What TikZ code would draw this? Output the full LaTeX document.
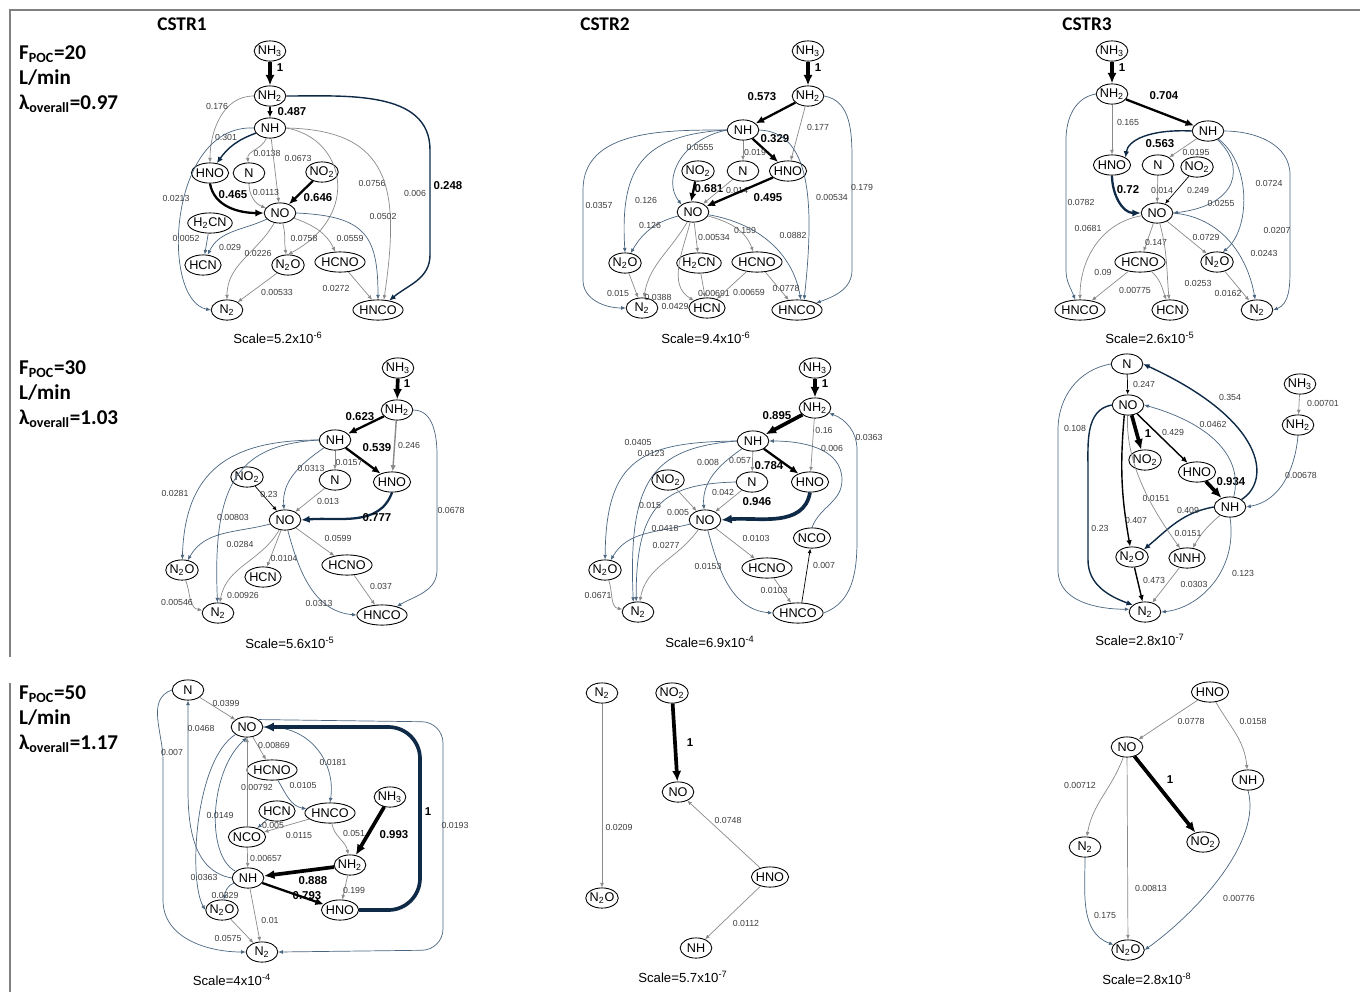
\documentclass[tikz,border=0pt]{standalone}
\usepackage{fontspec}
\setmainfont{Liberation Sans}
\newfontfamily\headfont{Carlito}
\usepackage{xcolor}
\usetikzlibrary{arrows.meta,shapes.geometric}
\definecolor{EdgeGrey}{HTML}{8A8A8A}
\definecolor{EdgeBlue}{HTML}{4A6580}
\definecolor{DeepNavy}{HTML}{0E2A47}
\definecolor{ValText}{HTML}{3C3C3C}
\definecolor{FrameGrey}{HTML}{808080}

\tikzset{
  sp/.style={draw,ellipse,line width=0.5pt,inner xsep=-0.5pt,inner ysep=0.5pt,
    minimum width=18pt,minimum height=11.5pt,font=\fontsize{7.2}{8.2}\selectfont},
  flow/.style={line width=0.4pt,-{Latex[length=2.6pt,width=2.2pt]}},
  gr/.style={flow,draw=EdgeGrey},
  bl/.style={flow,draw=EdgeBlue},
  bk/.style={flow,draw=black},
  nv/.style={flow,draw=DeepNavy},
  medium/.style={line width=0.8pt,-{Latex[length=3.6pt,width=3.2pt]}},
  strong/.style={line width=1.3pt,-{Latex[length=4.8pt,width=4.2pt]}},
  heavy/.style={line width=2.1pt,-{Latex[length=6pt,width=5.2pt]}},
  val/.style={font=\fontsize{5}{6}\selectfont,text=ValText,inner sep=0pt},
  bval/.style={font=\bfseries\fontsize{6.5}{7.5}\selectfont,inner sep=0pt},
  scl/.style={font=\fontsize{7.5}{9}\selectfont},
  colhead/.style={font=\headfont\bfseries\fontsize{11}{13}\selectfont},
  rowhead/.style={anchor=west,align=left,font=\headfont\bfseries\fontsize{12}{14.2}\selectfont},
}

\begin{document}
\begin{tikzpicture}[x=0.02cm,y=-0.02cm]
  \useasboundingbox (0,0) rectangle (1360,992);
  \draw[FrameGrey,line width=0.6pt] (10,657) -- (10,10) -- (1360,10);
  \draw[FrameGrey,line width=0.6pt] (10,683) -- (10,992);

  \node[colhead] (h1) at (182,24) {CSTR1};
  \node[colhead] (h2) at (605,24) {CSTR2};
  \node[colhead] (h3) at (1087,24) {CSTR3};
  \node[rowhead] (r1) at (13,79) {F\textsubscript{POC}=20\\L/min\\λ\textsubscript{overall}=0.97};
  \node[rowhead] (r2) at (13,394) {F\textsubscript{POC}=30\\L/min\\λ\textsubscript{overall}=1.03};
  \node[rowhead] (r3) at (13,719) {F\textsubscript{POC}=50\\L/min\\λ\textsubscript{overall}=1.17};

  % ---------- 20 L/min, CSTR1
  \node[sp] (a-NH3) at (270,51) {NH\textsubscript{3}};
  \node[sp] (a-NH2) at (270,96) {NH\textsubscript{2}};
  \node[sp] (a-NH) at (270,128) {NH};
  \node[sp] (a-HNO) at (210,173) {HNO};
  \node[sp] (a-N) at (249,173) {N};
  \node[sp] (a-NO2) at (322,172) {NO\textsubscript{2}};
  \node[sp] (a-NO) at (280,213) {NO};
  \node[sp] (a-H2CN) at (210,223) {H\textsubscript{2}CN};
  \node[sp] (a-HCN) at (203,265) {HCN};
  \node[sp] (a-N2O) at (288,265) {N\textsubscript{2}O};
  \node[sp] (a-HCNO) at (340,262) {HCNO};
  \node[sp] (a-N2) at (227,310) {N\textsubscript{2}};
  \node[sp] (a-HNCO) at (378,310) {HNCO};
  \node[scl] (a-scale) at (278,338) {Scale=5.2x10\textsuperscript{-6}};
  \draw[bk,heavy] (a-NH3) -- (a-NH2); \node[bval] (a-v1) at (280,68) {1};
  \draw[bk,medium] (a-NH2) -- (a-NH); \node[bval] (a-v2) at (292,112) {0.487};
  \draw[gr] (a-NH2.west) to[out=180,in=90] (a-HNO.north); \node[val] (a-v3) at (217,106) {0.176};
  \draw[nv,medium] (a-NH) to[out=200,in=55] (a-HNO); \node[val] (a-v4) at (226,137) {0.301};
  \draw[bl] (a-NH.west) .. controls (168,124) and (160,300) .. (a-N2.west); \node[val] (a-v5) at (176,198) {0.0213};
  \draw[gr] (a-NH) to[out=250,in=95] (a-N); \node[val] (a-v6) at (267,153) {0.0138};
  \draw[gr] (a-NH) -- (a-NO); \node[val] (a-v7) at (298,158) {0.0673};
  \draw[gr] (a-NH.east) .. controls (345,138) and (362,215) .. (a-N2O.north); \node[val] (a-v8) at (372,183) {0.0756};
  \draw[gr] (a-NH.east) .. controls (392,130) and (400,190) .. (a-HNCO.60); \node[val] (a-v9) at (415,193) {0.006};
  \draw[nv,medium] (a-NH2.east) to[out=0,in=90] (430,150) -- (430,255) to[out=-90,in=40] (a-HNCO.40); \node[bval] (a-v10) at (448,186) {0.248};
  \draw[bk,strong] (a-HNO.south) to[out=-80,in=180] (a-NO.west); \node[bval] (a-v11) at (233,195) {0.465};
  \draw[gr] (a-N) to[out=-90,in=160] (a-NO); \node[val] (a-v12) at (266,192) {0.0113};
  \draw[bk,strong] (a-NO2) -- (a-NO); \node[bval] (a-v13) at (318,198) {0.646};
  \draw[bl] (a-NO.east) .. controls (365,216) and (378,235) .. (a-HNCO.north); \node[val] (a-v14) at (383,216) {0.0502};
  \draw[bl] (a-H2CN) -- (a-HCN); \node[val] (a-v15) at (186,238) {0.0052};
  \draw[bl] (a-NO) to[out=205,in=65] (a-HCN); \node[val] (a-v16) at (230,247) {0.029};
  \draw[gr] (a-NO) to[out=240,in=90] (a-N2); \node[val] (a-v17) at (258,253) {0.0226};
  \draw[gr] (a-NO) to[out=-75,in=100] (a-N2O); \node[val] (a-v18) at (304,238) {0.0758};
  \draw[gr] (a-NO) to[out=-20,in=115] (a-HCNO); \node[val] (a-v19) at (350,238) {0.0559};
  \draw[gr] (a-N2O) -- (a-N2); \node[val] (a-v20) at (277,292) {0.00533};
  \draw[gr] (a-HCNO) -- (a-HNCO.120); \node[val] (a-v21) at (336,288) {0.0272};

  % ---------- 20 L/min, CSTR2
  \node[sp] (b-NH3) at (808,51) {NH\textsubscript{3}};
  \node[sp] (b-NH2) at (808,96) {NH\textsubscript{2}};
  \node[sp] (b-NH) at (743,130) {NH};
  \node[sp] (b-NO2) at (698,171) {NO\textsubscript{2}};
  \node[sp] (b-N) at (743,171) {N};
  \node[sp] (b-HNO) at (788,171) {HNO};
  \node[sp] (b-NO) at (693,212) {NO};
  \node[sp] (b-N2O) at (625,263) {N\textsubscript{2}O};
  \node[sp] (b-H2CN) at (699,263) {H\textsubscript{2}CN};
  \node[sp] (b-HCNO) at (757,262) {HCNO};
  \node[sp] (b-N2) at (642,308) {N\textsubscript{2}};
  \node[sp] (b-HCN) at (707,308) {HCN};
  \node[sp] (b-HNCO) at (797,310) {HNCO};
  \node[scl] (b-scale) at (706,338) {Scale=9.4x10\textsuperscript{-6}};
  \draw[bk,heavy] (b-NH3) -- (b-NH2); \node[bval] (b-v1) at (818,68) {1};
  \draw[bk,strong] (b-NH2) -- (b-NH); \node[bval] (b-v2) at (762,97) {0.573};
  \draw[gr] (b-NH2) -- (b-HNO); \node[val] (b-v3) at (818,127) {0.177};
  \draw[bl] (b-NH2.east) to[out=-10,in=90] (852,160) -- (852,270) to[out=-90,in=20] (b-HNCO.20); \node[val] (b-v4) at (862,187) {0.179};
  \draw[bk,strong] (b-NH) -- (b-HNO); \node[bval] (b-v5) at (775,139) {0.329};
  \draw[gr] (b-NH) -- (b-N); \node[val] (b-v6) at (755,152) {0.019};
  \draw[bl] (b-NH.west) .. controls (680,140) and (662,180) .. (b-NO.north west); \node[val] (b-v7) at (700,147) {0.0555};
  \draw[bl] (b-NH.west) .. controls (640,135) and (620,170) .. (b-N2O.north); \node[val] (b-v8) at (646,200) {0.126};
  \draw[bl] (b-NH.west) to[out=180,in=90] (583,190) -- (583,280) to[out=-90,in=180] (b-N2.west); \node[val] (b-v9) at (599,205) {0.0357};
  \draw[bl] (b-NH.east) .. controls (810,132) and (815,200) .. (b-HNCO.55); \node[val] (b-v10) at (832,197) {0.00534};
  \draw[bk,strong] (b-NO2.255) -- (b-NO.100); \node[bval] (b-v11) at (709,189) {0.681};
  \draw[gr] (b-N) -- (b-NO); \node[val] (b-v12) at (737,190) {0.014};
  \draw[bk,strong] (b-HNO) -- (b-NO); \node[bval] (b-v13) at (768,198) {0.495};
  \draw[bl] (b-NO) to[out=195,in=60] (b-N2O); \node[val] (b-v14) at (650,225) {0.126};
  \draw[gr] (b-NO) to[out=240,in=80] (b-N2); \node[val] (b-v15) at (658,297) {0.0388};
  \draw[gr] (b-NO) to[out=255,in=150] (b-HCN); \node[val] (b-v16) at (675,306) {0.0429};
  \draw[gr] (b-NO) -- (b-H2CN); \node[val] (b-v17) at (714,237) {0.00534};
  \draw[gr] (b-NO) to[out=-15,in=110] (b-HCNO); \node[val] (b-v18) at (745,230) {0.159};
  \draw[bl] (b-NO) to[out=-10,in=100] (b-HNCO.70); \node[val] (b-v19) at (793,235) {0.0882};
  \draw[gr] (b-N2O) -- (b-N2); \node[val] (b-v20) at (618,293) {0.015};
  \draw[gr] (b-H2CN) -- (b-HCN); \node[val] (b-v21) at (714,293) {0.00691};
  \draw[gr] (b-HCNO) -- (b-HCN); \node[val] (b-v22) at (749,292) {0.00659};
  \draw[gr] (b-HCNO) -- (b-HNCO); \node[val] (b-v23) at (786,288) {0.0778};

  % ---------- 20 L/min, CSTR3
  \node[sp] (c-NH3) at (1112,51) {NH\textsubscript{3}};
  \node[sp] (c-NH2) at (1112,94) {NH\textsubscript{2}};
  \node[sp] (c-NH) at (1208,131) {NH};
  \node[sp] (c-HNO) at (1112,165) {HNO};
  \node[sp] (c-N) at (1158,165) {N};
  \node[sp] (c-NO2) at (1197,167) {NO\textsubscript{2}};
  \node[sp] (c-NO) at (1157,213) {NO};
  \node[sp] (c-HCNO) at (1140,262) {HCNO};
  \node[sp] (c-N2O) at (1217,262) {N\textsubscript{2}O};
  \node[sp] (c-HNCO) at (1080,310) {HNCO};
  \node[sp] (c-HCN) at (1170,310) {HCN};
  \node[sp] (c-N2) at (1257,310) {N\textsubscript{2}};
  \node[scl] (c-scale) at (1150,338) {Scale=2.6x10\textsuperscript{-5}};
  \draw[bk,heavy] (c-NH3) -- (c-NH2); \node[bval] (c-v1) at (1122,68) {1};
  \draw[bk,strong] (c-NH2) -- (c-NH); \node[bval] (c-v2) at (1164,96) {0.704};
  \draw[gr] (c-NH2) -- (c-HNO); \node[val] (c-v3) at (1128,122) {0.165};
  \draw[bl] (c-NH2.west) to[out=190,in=90] (1066,140) -- (1066,270) to[out=-90,in=110] (c-HNCO.115); \node[val] (c-v4) at (1081,202) {0.0782};
  \draw[nv,medium] (c-NH.west) .. controls (1150,129) and (1128,140) .. (c-HNO.north east); \node[bval] (c-v5) at (1160,144) {0.563};
  \draw[gr] (c-NH) -- (c-N); \node[val] (c-v6) at (1196,152) {0.0195};
  \draw[bl] (c-NH) .. controls (1245,165) and (1240,205) .. (c-NO.east); \node[val] (c-v7) at (1221,203) {0.0255};
  \draw[bl] (c-NH) .. controls (1252,165) and (1250,230) .. (c-N2O.60); \node[val] (c-v8) at (1269,183) {0.0724};
  \draw[bl] (c-NH.east) to[out=0,in=90] (1290,175) -- (1290,270) to[out=-90,in=20] (c-N2.east); \node[val] (c-v9) at (1277,230) {0.0207};
  \draw[nv,strong] (c-HNO.south) to[out=-90,in=180] (c-NO.west); \node[bval] (c-v10) at (1128,190) {0.72};
  \draw[gr] (c-N) -- (c-NO); \node[val] (c-v11) at (1162,190) {0.014};
  \draw[bk] (c-NO2) -- (c-NO); \node[val] (c-v12) at (1198,190) {0.249};
  \draw[gr] (c-NO) to[out=190,in=90] (c-HNCO); \node[val] (c-v13) at (1088,228) {0.0681};
  \draw[gr] (c-NO) -- (c-HCNO); \node[val] (c-v14) at (1156,242) {0.147};
  \draw[gr] (c-NO) to[out=-75,in=95] (c-HCN); \node[val] (c-v15) at (1198,283) {0.0253};
  \draw[gr] (c-NO) -- (c-N2O); \node[val] (c-v16) at (1206,237) {0.0729};
  \draw[bl] (c-NO.east) to[out=-5,in=100] (c-N2); \node[val] (c-v17) at (1264,253) {0.0243};
  \draw[gr] (c-HCNO) -- (c-HNCO); \node[val] (c-v18) at (1103,272) {0.09};
  \draw[gr] (c-HCNO) to[out=-40,in=110] (c-HCN); \node[val] (c-v19) at (1135,290) {0.00775};
  \draw[gr] (c-N2O) -- (c-N2); \node[val] (c-v20) at (1228,293) {0.0162};

  % ---------- 30 L/min, CSTR1
  \node[sp] (d-NH3) at (398,368) {NH\textsubscript{3}};
  \node[sp] (d-NH2) at (397,410) {NH\textsubscript{2}};
  \node[sp] (d-NH) at (335,440) {NH};
  \node[sp] (d-NO2) at (247,477) {NO\textsubscript{2}};
  \node[sp] (d-N) at (335,480) {N};
  \node[sp] (d-HNO) at (392,482) {HNO};
  \node[sp] (d-NO) at (285,520) {NO};
  \node[sp] (d-N2O) at (182,570) {N\textsubscript{2}O};
  \node[sp] (d-HCN) at (263,577) {HCN};
  \node[sp] (d-HCNO) at (347,565) {HCNO};
  \node[sp] (d-N2) at (218,613) {N\textsubscript{2}};
  \node[sp] (d-HNCO) at (382,615) {HNCO};
  \node[scl] (d-scale) at (290,643) {Scale=5.6x10\textsuperscript{-5}};
  \draw[bk,heavy] (d-NH3) -- (d-NH2); \node[bval] (d-v1) at (407,384) {1};
  \draw[bk,strong] (d-NH2) -- (d-NH); \node[bval] (d-v2) at (360,417) {0.623};
  \draw[gr,medium] (d-NH2) -- (d-HNO); \node[val] (d-v3) at (409,445) {0.246};
  \draw[bl] (d-NH2.east) to[out=0,in=90] (437,455) -- (437,570) to[out=-90,in=30] (d-HNCO.30); \node[val] (d-v4) at (451,510) {0.0678};
  \draw[bk,strong] (d-NH) -- (d-HNO); \node[bval] (d-v5) at (377,448) {0.539};
  \draw[gr] (d-NH) -- (d-N); \node[val] (d-v6) at (349,462) {0.0157};
  \draw[bl] (d-NH) to[out=215,in=95] (d-NO); \node[val] (d-v7) at (311,468) {0.0313};
  \draw[bl] (d-NH.west) .. controls (230,440) and (185,470) .. (d-N2O); \node[val] (d-v8) at (175,493) {0.0281};
  \draw[bl] (d-NH.west) .. controls (240,445) and (212,480) .. (d-N2); \node[val] (d-v9) at (233,517) {0.00803};
  \draw[bk] (d-NO2) -- (d-NO); \node[val] (d-v10) at (269,494) {0.23};
  \draw[gr] (d-N) -- (d-NO); \node[val] (d-v11) at (328,501) {0.013};
  \draw[nv,strong] (d-HNO.south) to[out=-110,in=5] (d-NO.east); \node[bval] (d-v12) at (377,518) {0.777};
  \draw[bl] (d-NO) to[out=195,in=60] (d-N2O); \node[val] (d-v13) at (240,544) {0.0284};
  \draw[gr] (d-NO) -- (d-HCN); \node[val] (d-v14) at (284,558) {0.0104};
  \draw[gr] (d-NO) to[out=240,in=80] (d-N2); \node[val] (d-v15) at (243,595) {0.00926};
  \draw[gr] (d-NO) -- (d-HCNO); \node[val] (d-v16) at (338,538) {0.0599};
  \draw[bl] (d-NO) to[out=-75,in=175] (d-HNCO.west); \node[val] (d-v17) at (319,603) {0.0313};
  \draw[gr] (d-N2O) to[out=-70,in=170] (d-N2); \node[val] (d-v18) at (177,602) {0.00546};
  \draw[gr] (d-HCNO) -- (d-HNCO); \node[val] (d-v19) at (381,586) {0.037};

  % ---------- 30 L/min, CSTR2
  \node[sp] (e-NH3) at (815,368) {NH\textsubscript{3}};
  \node[sp] (e-NH2) at (815,408) {NH\textsubscript{2}};
  \node[sp] (e-NH) at (753,441) {NH};
  \node[sp] (e-NO2) at (668,480) {NO\textsubscript{2}};
  \node[sp] (e-N) at (752,482) {N};
  \node[sp] (e-HNO) at (810,482) {HNO};
  \node[sp] (e-NO) at (705,520) {NO};
  \node[sp] (e-NCO) at (812,538) {NCO};
  \node[sp] (e-N2O) at (605,570) {N\textsubscript{2}O};
  \node[sp] (e-HCNO) at (767,568) {HCNO};
  \node[sp] (e-N2) at (638,612) {N\textsubscript{2}};
  \node[sp] (e-HNCO) at (798,613) {HNCO};
  \node[scl] (e-scale) at (710,642) {Scale=6.9x10\textsuperscript{-4}};
  \draw[bk,heavy] (e-NH3) -- (e-NH2); \node[bval] (e-v1) at (825,384) {1};
  \draw[bk,heavy] (e-NH2) -- (e-NH); \node[bval] (e-v2) at (777,416) {0.895};
  \draw[gr] (e-NH2) -- (e-HNO); \node[val] (e-v3) at (824,430) {0.16};
  \draw[bk,strong] (e-NH) -- (e-HNO); \node[bval] (e-v4) at (769,466) {0.784};
  \draw[gr] (e-NH) -- (e-N); \node[val] (e-v5) at (740,460) {0.057};
  \draw[bl] (e-NH) to[out=215,in=95] (e-NO); \node[val] (e-v6) at (708,462) {0.008};
  \draw[bl] (e-NH.west) .. controls (640,442) and (606,460) .. (e-N2O); \node[val] (e-v7) at (638,442) {0.0405};
  \draw[bl] (e-NH.west) .. controls (652,448) and (628,480) .. (e-N2.115); \node[val] (e-v8) at (651,453) {0.0123};
  \draw[bl] (e-N.west) .. controls (662,484) and (636,505) .. (e-N2.100); \node[val] (e-v9) at (650,505) {0.015};
  \draw[gr] (e-NO2) -- (e-NO); \node[val] (e-v10) at (678,512) {0.005};
  \draw[gr] (e-N) -- (e-NO); \node[val] (e-v11) at (723,492) {0.042};
  \draw[nv,heavy] (e-HNO.south) to[out=-100,in=5] (e-NO.east); \node[bval] (e-v12) at (757,502) {0.946};
  \draw[bl] (e-NO) to[out=195,in=60] (e-N2O); \node[val] (e-v13) at (665,528) {0.0418};
  \draw[gr] (e-NO) to[out=235,in=80] (e-N2.80); \node[val] (e-v14) at (666,545) {0.0277};
  \draw[gr] (e-NO) -- (e-HCNO); \node[val] (e-v15) at (756,538) {0.0103};
  \draw[bl] (e-NO) to[out=-75,in=175] (e-HNCO.west); \node[val] (e-v16) at (708,566) {0.0153};
  \draw[gr] (e-HCNO) -- (e-HNCO); \node[val] (e-v17) at (774,590) {0.0103};
  \draw[bk] (e-HNCO.70) -- (e-NCO); \node[val] (e-v18) at (824,565) {0.007};
  \draw[bl] (e-NCO.north) to[out=70,in=-90] (842,480) to[out=90,in=0] (e-NH.east); \node[val] (e-v19) at (832,448) {0.006};
  \draw[bl] (e-HNCO.east) to[out=20,in=-90] (857,540) -- (857,450) to[out=90,in=-20] (e-NH2.-20); \node[val] (e-v20) at (869,437) {0.0363};
  \draw[gr] (e-N2O) to[out=-70,in=170] (e-N2); \node[val] (e-v21) at (598,595) {0.0671};

  % ---------- 30 L/min, CSTR3
  \node[sp] (f-N) at (1127,364) {N};
  \node[sp] (f-NO) at (1128,405) {NO};
  \node[sp] (f-NH3) at (1300,384) {NH\textsubscript{3}};
  \node[sp] (f-NH2) at (1298,425) {NH\textsubscript{2}};
  \node[sp] (f-NO2) at (1145,460) {NO\textsubscript{2}};
  \node[sp] (f-HNO) at (1197,472) {HNO};
  \node[sp] (f-NH) at (1230,507) {NH};
  \node[sp] (f-N2O) at (1132,557) {N\textsubscript{2}O};
  \node[sp] (f-NNH) at (1187,558) {NNH};
  \node[sp] (f-N2) at (1145,612) {N\textsubscript{2}};
  \node[scl] (f-scale) at (1140,640) {Scale=2.8x10\textsuperscript{-7}};
  \draw[bk] (f-N) -- (f-NO); \node[val] (f-v1) at (1144,384) {0.247};
  \draw[bl] (f-N.west) to[out=190,in=90] (1058,430) -- (1058,570) to[out=-90,in=180] (f-N2.170); \node[val] (f-v2) at (1075,428) {0.108};
  \draw[nv,medium] (f-NH.north east) .. controls (1272,480) and (1265,420) .. (f-N.east); \node[val] (f-v3) at (1230,397) {0.354};
  \draw[bk,heavy] (f-NO.290) -- (f-NO2.110); \node[bval] (f-v4) at (1148,434) {1};
  \draw[bk,medium] (f-NO) -- (f-HNO); \node[val] (f-v5) at (1173,432) {0.429};
  \draw[bk,heavy] (f-HNO) -- (f-NH); \node[bval] (f-v6) at (1231,482) {0.934};
  \draw[bl] (f-NH.70) .. controls (1243,460) and (1215,425) .. (f-NO.east); \node[val] (f-v7) at (1213,424) {0.0462};
  \draw[nv,medium] (f-NH.west) to[out=190,in=40] (f-N2O.north east); \node[val] (f-v8) at (1188,510) {0.409};
  \draw[gr] (f-NH) to[out=220,in=60] (f-NNH); \node[val] (f-v9) at (1188,533) {0.0151};
  \draw[bl] (f-NH.south) .. controls (1238,570) and (1200,608) .. (f-N2.east); \node[val] (f-v10) at (1243,573) {0.123};
  \draw[bk,medium] (f-NO.250) to[out=-95,in=100] (f-N2O.100); \node[val] (f-v11) at (1136,520) {0.407};
  \draw[gr] (f-NO) .. controls (1125,470) and (1160,520) .. (f-NNH); \node[val] (f-v12) at (1156,498) {0.0151};
  \draw[nv,medium] (f-NO.west) to[out=190,in=90] (1088,470) -- (1088,560) to[out=-90,in=160] (f-N2.150); \node[val] (f-v13) at (1100,528) {0.23};
  \draw[bk,medium] (f-N2O) -- (f-N2); \node[val] (f-v14) at (1154,580) {0.473};
  \draw[gr] (f-NNH) -- (f-N2); \node[val] (f-v15) at (1194,584) {0.0303};
  \draw[gr] (f-NH3) -- (f-NH2); \node[val] (f-v16) at (1323,403) {0.00701};
  \draw[bl] (f-NH2.south) to[out=-95,in=10] (f-NH.east); \node[val] (f-v17) at (1301,475) {0.00678};

  % ---------- 50 L/min, CSTR1
  \node[sp] (g-N) at (188,690) {N};
  \node[sp] (g-NO) at (247,727) {NO};
  \node[sp] (g-HCNO) at (272,770) {HCNO};
  \node[sp] (g-HCN) at (277,811) {HCN};
  \node[sp] (g-NH3) at (390,797) {NH\textsubscript{3}};
  \node[sp] (g-HNCO) at (330,813) {HNCO};
  \node[sp] (g-NCO) at (247,837) {NCO};
  \node[sp] (g-NH2) at (350,865) {NH\textsubscript{2}};
  \node[sp] (g-NH) at (248,878) {NH};
  \node[sp] (g-N2O) at (222,910) {N\textsubscript{2}O};
  \node[sp] (g-HNO) at (340,910) {HNO};
  \node[sp] (g-N2) at (262,952) {N\textsubscript{2}};
  \node[scl] (g-scale) at (232,980) {Scale=4x10\textsuperscript{-4}};
  \draw[gr] (g-N) -- (g-NO); \node[val] (g-v1) at (226,703) {0.0399};
  \draw[bl] (g-NH.west) to[out=170,in=-90] (188,790) -- (g-N.south); \node[val] (g-v2) at (201,728) {0.0468};
  \draw[bl] (g-N.west) to[out=200,in=90] (163,760) -- (163,900) to[out=-90,in=180] (g-N2.west); \node[val] (g-v3) at (172,752) {0.007};
  \draw[gr] (g-NO) -- (g-HCNO); \node[val] (g-v4) at (274,745) {0.00869};
  \draw[bl] (g-NO.east) .. controls (312,724) and (336,765) .. (g-HNCO.north); \node[val] (g-v5) at (333,762) {0.0181};
  \draw[bl] (g-NO.south west) .. controls (195,760) and (188,880) .. (g-N2O.west); \node[val] (g-v6) at (204,877) {0.0363};
  \draw[bl] (g-HCNO) to[out=-60,in=170] (g-HNCO); \node[val] (g-v7) at (303,785) {0.0105};
  \draw[gr] (g-NCO) -- (g-NO); \node[val] (g-v8) at (257,787) {0.00792};
  \draw[bl] (g-NH) .. controls (205,855) and (210,770) .. (g-NO.south); \node[val] (g-v9) at (220,815) {0.0149};
  \draw[bl] (g-HCN) -- (g-NCO); \node[val] (g-v10) at (273,825) {0.005};
  \draw[gr] (g-HNCO) -- (g-NCO); \node[val] (g-v11) at (299,835) {0.0115};
  \draw[gr] (g-HNCO) to[out=-80,in=100] (g-NH2); \node[val] (g-v12) at (354,833) {0.051};
  \draw[bk,heavy] (g-NH3) -- (g-NH2); \node[bval] (g-v13) at (394,835) {0.993};
  \draw[gr] (g-NCO) -- (g-NH); \node[val] (g-v14) at (266,858) {0.00657};
  \draw[bk,heavy] (g-NH2) -- (g-NH); \node[bval] (g-v15) at (313,881) {0.888};
  \draw[bk,strong] (g-NH) -- (g-HNO); \node[bval] (g-v16) at (307,896) {0.793};
  \draw[gr] (g-NH2) -- (g-HNO); \node[val] (g-v17) at (354,890) {0.199};
  \draw[nv,heavy,rounded corners=18pt] (g-HNO.east) -- (420,910) -- (420,727) -- (g-NO.east); \node[bval] (g-v18) at (428,812) {1};
  \draw[bl,rounded corners=12pt] (g-NO.north east) -- (443,722) -- (443,950) -- (g-N2.east); \node[val] (g-v19) at (455,825) {0.0193};
  \draw[bl] (g-NH) to[out=200,in=80] (g-N2O); \node[val] (g-v20) at (225,895) {0.0329};
  \draw[gr] (g-NH) -- (g-N2); \node[val] (g-v21) at (270,920) {0.01};
  \draw[gr] (g-N2O) -- (g-N2); \node[val] (g-v22) at (228,938) {0.0575};

  % ---------- 50 L/min, CSTR2
  \node[sp] (h-N2) at (602,693) {N\textsubscript{2}};
  \node[sp] (h-NO2) at (672,693) {NO\textsubscript{2}};
  \node[sp] (h-NO) at (678,792) {NO};
  \node[sp] (h-N2O) at (602,898) {N\textsubscript{2}O};
  \node[sp] (h-HNO) at (770,877) {HNO};
  \node[sp] (h-NH) at (696,948) {NH};
  \node[scl] (h-scale) at (683,977) {Scale=5.7x10\textsuperscript{-7}};
  \draw[gr] (h-N2) -- (h-N2O); \node[val] (h-v1) at (619,827) {0.0209};
  \draw[bk,heavy] (h-NO2) -- (h-NO); \node[bval] (h-v2) at (690,743) {1};
  \draw[gr] (h-HNO) -- (h-NO); \node[val] (h-v3) at (728,820) {0.0748};
  \draw[gr] (h-HNO) -- (h-NH); \node[val] (h-v4) at (746,923) {0.0112};

  % ---------- 50 L/min, CSTR3
  \node[sp] (i-HNO) at (1210,692) {HNO};
  \node[sp] (i-NO) at (1127,747) {NO};
  \node[sp] (i-NH) at (1248,780) {NH};
  \node[sp] (i-N2) at (1085,847) {N\textsubscript{2}};
  \node[sp] (i-NO2) at (1203,842) {NO\textsubscript{2}};
  \node[sp] (i-N2O) at (1128,950) {N\textsubscript{2}O};
  \node[scl] (i-scale) at (1147,979) {Scale=2.8x10\textsuperscript{-8}};
  \draw[gr] (i-HNO) -- (i-NO); \node[val] (i-v1) at (1191,721) {0.0778};
  \draw[gr] (i-HNO) to[out=-60,in=95] (i-NH); \node[val] (i-v2) at (1253,721) {0.0158};
  \draw[bk,heavy] (i-NO) -- (i-NO2); \node[bval] (i-v3) at (1170,780) {1};
  \draw[gr] (i-NO) to[out=-110,in=80] (i-N2); \node[val] (i-v4) at (1080,785) {0.00712};
  \draw[gr] (i-NO) -- (i-N2O); \node[val] (i-v5) at (1151,888) {0.00813};
  \draw[bl] (i-N2) to[out=-90,in=160] (i-N2O); \node[val] (i-v6) at (1105,915) {0.175};
  \draw[bl] (i-NH.south) .. controls (1262,840) and (1200,910) .. (i-N2O.east); \node[val] (i-v7) at (1239,898) {0.00776};
\end{tikzpicture}
\end{document}
